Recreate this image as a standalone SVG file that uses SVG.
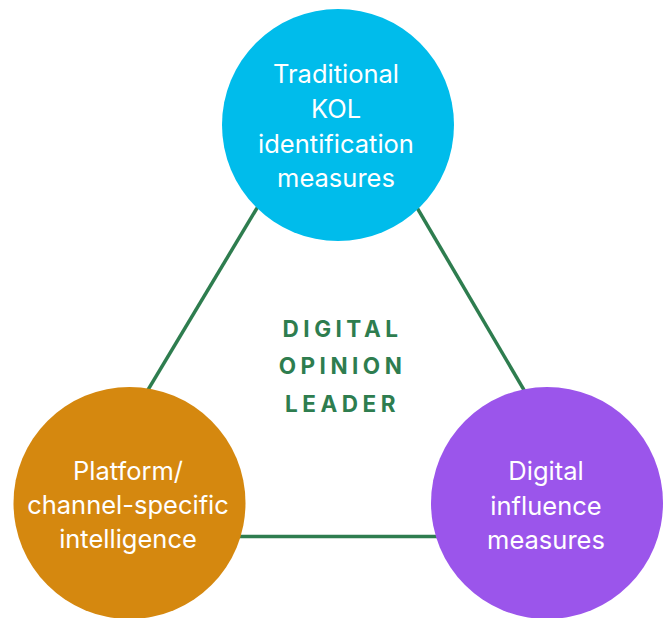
<svg xmlns="http://www.w3.org/2000/svg" width="665" height="618" viewBox="0 0 665 618">
<style>
.lbl{font-family:Inter,"Noto Sans",sans-serif;font-size:25.5px;fill:#ffffff;text-anchor:middle}
.ctr{font-family:Inter,"Noto Sans",sans-serif;font-size:22.5px;font-weight:700;fill:#2e7d4f;text-anchor:middle;letter-spacing:4.5px}
.edge{stroke:#2e7d4f;stroke-width:3.5;fill:none}
</style>
<rect width="665" height="618" fill="#ffffff"/>
<g id="connectors">
<line class="edge" x1="338" y1="73" x2="60" y2="536.5"/>
<line class="edge" x1="338" y1="73" x2="610" y2="536.5"/>
<line class="edge" x1="60" y1="536.5" x2="610" y2="536.5"/>
</g>
<g id="center-label">
<text class="ctr" x="342.5" y="337">DIGITAL</text>
<text class="ctr" x="342.5" y="374">OPINION</text>
<text class="ctr" x="342.5" y="412">LEADER</text>
</g>
<g id="node-traditional">
<circle cx="338" cy="125" r="116" fill="#00bceb"/>
<text class="lbl" x="336" y="83">Traditional</text>
<text class="lbl" x="336" y="118">KOL</text>
<text class="lbl" x="336" y="153">identification</text>
<text class="lbl" x="336" y="187">measures</text>
</g>
<g id="node-platform">
<circle cx="129.5" cy="503" r="116" fill="#d5880f"/>
<text class="lbl" x="128" y="480">Platform/</text>
<text class="lbl" x="128" y="514">channel-specific</text>
<text class="lbl" x="128" y="548">intelligence</text>
</g>
<g id="node-digital">
<circle cx="547" cy="503" r="116" fill="#9b55eb"/>
<text class="lbl" x="546" y="480">Digital</text>
<text class="lbl" x="546" y="515">influence</text>
<text class="lbl" x="546" y="549">measures</text>
</g>
</svg>
